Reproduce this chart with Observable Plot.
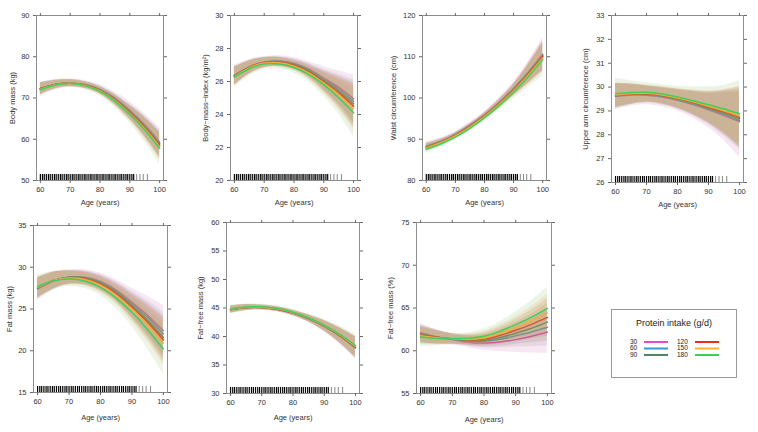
<!DOCTYPE html>
<html><head><meta charset="utf-8">
<script src="https://cdn.jsdelivr.net/npm/d3@7"></script>
<script src="https://cdn.jsdelivr.net/npm/@observablehq/plot@0.6"></script>
<style>
body{margin:0;background:#fff;font-family:"Liberation Sans",Arial,sans-serif;}
#wrap{position:relative;width:758px;height:432px;overflow:hidden;background:#fff}
.panel{position:absolute}
</style></head><body><div id="wrap"></div>
<script>
// ---------- data ----------
const ages = [60, 65, 70, 75, 80, 85, 90, 95, 100];
const intakes = [30, 60, 90, 120, 150, 180];
const intakeColors = ["#e04fc6", "#3a9ad9", "#4f8660", "#f22a22", "#ffb12a", "#3fcf5c"];
const bandColors = ["#d070b0", "#9a8aa0", "#8a7a50", "#d06040", "#e0a040", "#90c070"];
const xTicks = [60, 70, 80, 90, 100];

// rug of observed ages
const rugDense = [60,60.7,61.3,62,62.7,63.3,64,64.7,65.3,66,66.7,67.3,68,68.7,69.3,70,70.7,71.3,72,72.7,73.3,74,74.7,75.3,76,76.7,77.3,78,78.7,79.3,80,80.7,81.3,82,82.7,83.3,84,84.7,85.3,86,86.7,87.3,88,88.7,89.3,90,90.7,91.3];
const rugSparse = [92.3, 93.4, 94.5, 95.9];

// Body mass (kg): fitted values per intake (rows) at ages (cols), and CI half-widths
const bodyMassTicks = [50, 60, 70, 80, 90];
const bodyMassFit = [
  [72.3, 73.3, 73.6, 73.25, 72.1, 69.95, 67.0, 63.5, 59.3],
  [72.3, 73.3, 73.6, 73.2, 72.0, 69.8, 66.8, 63.25, 59.0],
  [72.3, 73.3, 73.6, 73.15, 71.9, 69.65, 66.6, 63.05, 58.8],
  [72.2, 73.25, 73.6, 73.1, 71.8, 69.5, 66.4, 62.8, 58.5],
  [72.1, 73.2, 73.6, 73.05, 71.7, 69.35, 66.2, 62.55, 58.2],
  [72.0, 73.15, 73.6, 73.0, 71.6, 69.2, 66.0, 62.25, 57.8]];
const bodyMassHW = [
  [1.6, 1.2, 1.0, 1.0, 1.1, 1.5, 2.1, 2.7, 3.4],
  [1.4, 1.0, 0.8, 0.8, 0.9, 1.2, 1.7, 2.4, 3.2],
  [1.4, 1.0, 0.8, 0.8, 0.9, 1.2, 1.7, 2.4, 3.1],
  [1.4, 1.0, 0.8, 0.8, 0.9, 1.2, 1.7, 2.4, 3.1],
  [1.4, 1.0, 0.8, 0.8, 0.9, 1.2, 1.7, 2.4, 3.3],
  [1.7, 1.3, 1.0, 1.0, 1.1, 1.5, 2.1, 2.9, 3.9]];

// Body-mass-index (kg/m2)
const bmiTicks = [20, 22, 24, 26, 28, 30];
const bmiFit = [
  [26.38, 26.89, 27.17, 27.24, 27.10, 26.75, 26.20, 25.65, 24.95],
  [26.36, 26.88, 27.17, 27.22, 27.07, 26.70, 26.12, 25.53, 24.80],
  [26.34, 26.87, 27.16, 27.20, 27.03, 26.64, 26.05, 25.42, 24.65],
  [26.32, 26.85, 27.15, 27.17, 26.98, 26.57, 25.97, 25.31, 24.50],
  [26.30, 26.82, 27.12, 27.13, 26.93, 26.51, 25.90, 25.20, 24.35],
  [26.26, 26.77, 27.06, 27.06, 26.85, 26.42, 25.80, 25.02, 24.10]];
const bmiHW = [
  [0.60, 0.45, 0.35, 0.32, 0.35, 0.45, 0.70, 1.00, 1.45],
  [0.55, 0.40, 0.30, 0.28, 0.30, 0.40, 0.60, 0.90, 1.30],
  [0.55, 0.40, 0.30, 0.28, 0.30, 0.40, 0.60, 0.90, 1.30],
  [0.55, 0.40, 0.30, 0.28, 0.30, 0.40, 0.60, 0.90, 1.30],
  [0.55, 0.40, 0.30, 0.28, 0.30, 0.40, 0.60, 0.90, 1.30],
  [0.60, 0.45, 0.35, 0.32, 0.35, 0.45, 0.70, 1.00, 1.45]];

// Waist circumference (cm)
const waistTicks = [80, 90, 100, 110, 120];
const waistFit = [
  [88.3, 89.55, 91.2, 93.4, 95.9, 98.9, 102.3, 106.25, 110.6],
  [88.2, 89.45, 91.1, 93.3, 95.8, 98.8, 102.2, 106.1, 110.4],
  [88.1, 89.35, 91.0, 93.15, 95.7, 98.65, 102.0, 105.9, 110.2],
  [88.0, 89.25, 90.9, 93.05, 95.6, 98.55, 101.9, 105.75, 110.0],
  [87.9, 89.15, 90.8, 92.95, 95.5, 98.4, 101.7, 105.5, 109.7],
  [87.6, 88.85, 90.5, 92.65, 95.2, 98.1, 101.4, 105.15, 109.3]];
const waistHW = [
  [1.1, 0.8, 0.7, 0.7, 0.8, 1.1, 1.6, 2.6, 4.0],
  [0.9, 0.7, 0.6, 0.6, 0.7, 1.0, 1.4, 2.3, 3.5],
  [0.9, 0.7, 0.6, 0.6, 0.7, 1.0, 1.4, 2.3, 3.5],
  [0.9, 0.7, 0.6, 0.6, 0.7, 1.0, 1.4, 2.3, 3.5],
  [0.9, 0.7, 0.6, 0.6, 0.7, 1.0, 1.4, 2.3, 3.5],
  [1.1, 0.8, 0.7, 0.7, 0.8, 1.1, 1.6, 2.6, 3.9]];

// Upper arm circumference (cm)
const armTicks = [26, 27, 28, 29, 30, 31, 32, 33];
const armFit = [
  [29.62, 29.67, 29.66, 29.58, 29.45, 29.27, 29.05, 28.81, 28.55],
  [29.63, 29.68, 29.68, 29.60, 29.47, 29.29, 29.08, 28.85, 28.60],
  [29.64, 29.70, 29.70, 29.63, 29.50, 29.33, 29.12, 28.91, 28.67],
  [29.65, 29.71, 29.72, 29.65, 29.52, 29.36, 29.16, 28.96, 28.74],
  [29.67, 29.73, 29.74, 29.67, 29.54, 29.38, 29.20, 29.01, 28.80],
  [29.72, 29.77, 29.78, 29.71, 29.58, 29.43, 29.26, 29.08, 28.88]];
const armHW = [
  [0.55, 0.47, 0.40, 0.40, 0.45, 0.57, 0.75, 1.05, 1.50],
  [0.50, 0.42, 0.35, 0.35, 0.40, 0.50, 0.65, 0.90, 1.20],
  [0.50, 0.42, 0.35, 0.35, 0.40, 0.50, 0.65, 0.90, 1.20],
  [0.50, 0.42, 0.35, 0.35, 0.40, 0.50, 0.65, 0.90, 1.20],
  [0.50, 0.42, 0.35, 0.35, 0.40, 0.50, 0.65, 0.90, 1.20],
  [0.65, 0.50, 0.40, 0.40, 0.45, 0.57, 0.75, 1.00, 1.40]];

// Fat mass (kg)
const fatTicks = [15, 20, 25, 30, 35];
const fatFit = [
  [27.40, 28.34, 28.80, 28.80, 28.30, 27.25, 25.8, 24.22, 22.4],
  [27.45, 28.37, 28.80, 28.76, 28.20, 27.15, 25.6, 24.00, 22.0],
  [27.50, 28.40, 28.80, 28.70, 28.10, 27.00, 25.4, 23.65, 21.6],
  [27.55, 28.42, 28.75, 28.63, 28.00, 26.85, 25.2, 23.40, 21.3],
  [27.60, 28.42, 28.70, 28.53, 27.85, 26.65, 25.0, 23.10, 20.9],
  [27.70, 28.39, 28.60, 28.35, 27.60, 26.30, 24.6, 22.52, 20.2]];
const fatHW = [
  [1.4, 1.1, 0.9, 0.9, 1.0, 1.25, 1.7, 2.3, 3.0],
  [1.2, 1.0, 0.8, 0.8, 0.9, 1.1, 1.5, 2.0, 2.6],
  [1.2, 1.0, 0.8, 0.8, 0.9, 1.1, 1.5, 2.0, 2.6],
  [1.2, 1.0, 0.8, 0.8, 0.9, 1.1, 1.5, 2.0, 2.6],
  [1.2, 1.0, 0.8, 0.8, 0.9, 1.1, 1.5, 2.0, 2.6],
  [1.4, 1.1, 0.9, 0.9, 1.0, 1.25, 1.7, 2.3, 3.0]];

// Fat-free mass (kg)
const ffmTicks = [30, 35, 40, 45, 50, 55, 60];
const ffmFit = [
  [44.70, 45.07, 45.10, 44.77, 44.10, 43.12, 41.80, 40.07, 38.00],
  [44.70, 45.07, 45.10, 44.77, 44.10, 43.12, 41.80, 40.10, 38.05],
  [44.70, 45.07, 45.10, 44.77, 44.10, 43.14, 41.85, 40.16, 38.10],
  [44.75, 45.10, 45.10, 44.80, 44.15, 43.20, 41.90, 40.20, 38.15],
  [44.75, 45.12, 45.15, 44.85, 44.20, 43.25, 41.95, 40.28, 38.25],
  [44.80, 45.17, 45.20, 44.90, 44.25, 43.30, 42.00, 40.38, 38.40]];
const ffmHW = [
  [0.70, 0.55, 0.45, 0.45, 0.50, 0.65, 1.00, 1.45, 2.00],
  [0.60, 0.50, 0.40, 0.40, 0.45, 0.60, 0.90, 1.30, 1.80],
  [0.60, 0.50, 0.40, 0.40, 0.45, 0.60, 0.90, 1.30, 1.80],
  [0.60, 0.50, 0.40, 0.40, 0.45, 0.60, 0.90, 1.30, 1.80],
  [0.60, 0.50, 0.40, 0.40, 0.45, 0.60, 0.90, 1.30, 1.80],
  [0.70, 0.55, 0.45, 0.45, 0.50, 0.65, 1.00, 1.45, 2.00]];

// Fat-free mass (%)
const ffpTicks = [55, 60, 65, 70, 75];
const ffpFit = [
  [62.10, 61.62, 61.30, 61.00, 60.90, 61.02, 61.30, 61.69, 62.20],
  [62.00, 61.62, 61.35, 61.14, 61.10, 61.34, 61.75, 62.20, 62.75],
  [61.95, 61.62, 61.40, 61.21, 61.20, 61.53, 62.05, 62.64, 63.35],
  [61.85, 61.57, 61.40, 61.28, 61.35, 61.78, 62.40, 63.09, 63.90],
  [61.75, 61.51, 61.40, 61.35, 61.50, 62.00, 62.70, 63.48, 64.40],
  [61.60, 61.44, 61.40, 61.45, 61.70, 62.27, 63.05, 63.93, 64.95]];
const ffpHW = [
  [1.10, 0.85, 0.65, 0.65, 0.85, 1.10, 1.50, 1.95, 2.50],
  [1.00, 0.80, 0.60, 0.60, 0.75, 1.00, 1.30, 1.70, 2.20],
  [1.00, 0.80, 0.60, 0.60, 0.75, 1.00, 1.30, 1.70, 2.20],
  [1.00, 0.80, 0.60, 0.60, 0.75, 1.00, 1.30, 1.70, 2.20],
  [1.00, 0.80, 0.60, 0.60, 0.75, 1.00, 1.30, 1.70, 2.20],
  [1.10, 0.85, 0.65, 0.65, 0.85, 1.10, 1.50, 1.95, 2.50]];

// ---------- layout ----------
const panels = [
  {fit: bodyMassFit, hw: bodyMassHW, y: [50, 90], ticks: bodyMassTicks, label: "Body mass (kg)", frame: [36, 15, 163, 180], ylab: 24, xlab: 22},
  {fit: bmiFit, hw: bmiHW, y: [20, 30], ticks: bmiTicks, label: "Body\u2212mass\u2212index (kg/m\u00b2)", frame: [230, 15, 357, 180], ylab: 25, xlab: 22},
  {fit: waistFit, hw: waistHW, y: [80, 120], ticks: waistTicks, label: "Waist circumference (cm)", frame: [422, 15, 546, 180], ylab: 29, xlab: 22},
  {fit: armFit, hw: armHW, y: [26, 33], ticks: armTicks, label: "Upper arm circumference (cm)", frame: [611, 15, 743, 182], ylab: 26, xlab: 22},
  {fit: fatFit, hw: fatHW, y: [15, 35], ticks: fatTicks, label: "Fat mass (kg)", frame: [33, 225, 167, 392], ylab: 24, xlab: 25},
  {fit: ffmFit, hw: ffmHW, y: [30, 60], ticks: ffmTicks, label: "Fat\u2212free mass (kg)", frame: [226, 222, 359, 393], ylab: 26, xlab: 24},
  {fit: ffpFit, hw: ffpHW, y: [55, 75], ticks: ffpTicks, label: "Fat\u2212free mass (%)", frame: [416, 222, 551, 393], ylab: 26, xlab: 26}
];

const wrap = document.getElementById("wrap");
const ML = 40, MT = 15, MR = 14, MB = 36;
const FONT = "'Liberation Sans', Arial, sans-serif";

panels.forEach(p => {
  const [l, t, r, b] = p.frame;
  const W = (r - l) + ML + MR, H = (b - t) + MT + MB;
  const marks = [];
  intakes.forEach((g, i) => {
    const sub = ages.map((a, j) => ({
      intake: g, age: a, fit: p.fit[i][j], lo: p.fit[i][j] - p.hw[i][j], hi: p.fit[i][j] + p.hw[i][j]
    }));
    marks.push(Plot.areaY(sub, {x: "age", y1: "lo", y2: "hi", fill: bandColors[i], fillOpacity: 0.17, curve: "natural"}));
    marks.push(Plot.lineY(sub, {x: "age", y: "fit", stroke: intakeColors[i], strokeWidth: 1.5, curve: "natural"}));
  });
  const plotH = b - t;
  marks.push(
    Plot.ruleX(rugDense, {x: d => d, stroke: "#000", strokeWidth: 1.2, insetTop: plotH - 6}),
    Plot.ruleX(rugSparse, {x: d => d, stroke: "#888", strokeWidth: 1, insetTop: plotH - 6}),
    Plot.frame({stroke: "#8c8c8c"}),
    Plot.axisX({anchor: "bottom", ticks: xTicks, tickSize: 3, tickPadding: 3, tickFormat: "d", label: null, stroke: "#666", fill: "#333"}),
    Plot.axisX({anchor: "top", ticks: xTicks, tickSize: 3, tickFormat: () => "", label: null, stroke: "#666"}),
    Plot.axisY({anchor: "left", ticks: p.ticks, tickSize: 3, tickPadding: 4, tickFormat: "d", label: null, stroke: "#666", fill: "#333"}),
    Plot.axisY({anchor: "right", ticks: p.ticks, tickSize: 3, tickFormat: () => "", label: null, stroke: "#666"}),
    Plot.text([p.label], {text: d => d, frameAnchor: "left", dx: -p.ylab, rotate: -90, textAnchor: "middle", lineAnchor: "middle", fill: "#333"}),
    Plot.text(["Age (years)"], {text: d => d, frameAnchor: "bottom", dy: p.xlab, textAnchor: "middle", lineAnchor: "middle", fill: "#333"})
  );
  const chart = Plot.plot({
    width: W, height: H,
    marginLeft: ML, marginTop: MT, marginRight: MR, marginBottom: MB,
    x: {domain: [58.7, 101.3]},
    y: {domain: p.y},
    style: {fontFamily: FONT, fontSize: "7.5px", background: "transparent", overflow: "visible"},
    marks
  });
  const div = document.createElement("div");
  div.className = "panel";
  div.style.left = (l - ML) + "px";
  div.style.top = (t - MT) + "px";
  div.appendChild(chart);
  wrap.appendChild(div);
});

// ---------- legend ----------
const legend = d3.select(wrap).append("svg")
  .attr("width", 126).attr("height", 69)
  .style("position", "absolute").style("left", "611px").style("top", "309px")
  .style("font-family", FONT);
legend.append("rect").attr("x", 0.5).attr("y", 0.5).attr("width", 125).attr("height", 68)
  .attr("fill", "#fff").attr("stroke", "#999");
legend.append("text").attr("x", 63).attr("y", 15).attr("text-anchor", "middle")
  .attr("dominant-baseline", "middle").attr("font-size", 9).attr("fill", "#222")
  .text("Protein intake (g/d)");
const rowY = [33, 39.5, 46];
intakes.forEach((g, i) => {
  const col = Math.floor(i / 3), row = i % 3;
  const lx = col === 0 ? 19 : 66, x1 = col === 0 ? 33 : 84;
  legend.append("text").attr("x", lx).attr("y", rowY[row]).attr("dominant-baseline", "middle")
    .attr("font-size", 6.5).attr("fill", "#222").text(g);
  legend.append("line").attr("x1", x1).attr("x2", x1 + 24).attr("y1", rowY[row]).attr("y2", rowY[row])
    .attr("stroke", intakeColors[i]).attr("stroke-width", 2);
});
</script></body></html>
